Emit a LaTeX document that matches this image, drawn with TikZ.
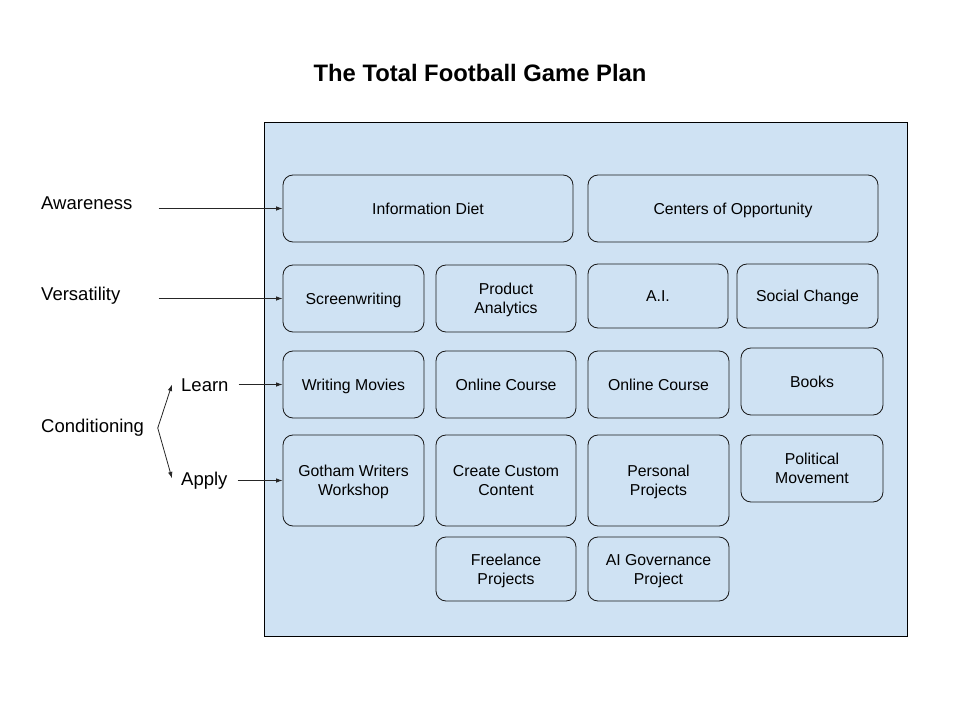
\documentclass[tikz,border=0pt]{standalone}
\usepackage{fontspec}
\setmainfont{Liberation Sans}
\usetikzlibrary{arrows.meta}
\definecolor{panelblue}{HTML}{CFE2F3}
\tikzset{
  panel/.style={draw=black, line width=0.9pt, fill=panelblue},
  box/.style={draw=black!90, line width=0.85pt, fill=panelblue, rounded corners=10pt,
    inner sep=0pt, align=center, font=\fontsize{15.8}{19}\selectfont,
    text height=13.66pt, text depth=2.34pt},
  twoline/.style={text height=32.66pt, text depth=2.34pt},
  lbl/.style={inner sep=0pt, anchor=west, font=\fontsize{18.5}{22}\selectfont,
    text height=14.62pt, text depth=1.38pt},
  ttl/.style={inner sep=0pt, font=\fontsize{23.8}{28}\selectfont\bfseries,
    text height=18.5pt, text depth=1.5pt},
  arr/.style={draw=black!85, line width=0.8pt, -{Latex[length=6.5pt,width=4.5pt]}}
}
\begin{document}
\begin{tikzpicture}[x=1pt,y=-1pt]
\useasboundingbox (0,0) rectangle (960,720);
% title
\node[ttl] (title) at (480,73) {The Total Football Game Plan};
% panel
\draw[panel] (264,122) rectangle (907,636);
% boxes
\node[box, minimum width=290, minimum height=67] (info) at (428,208.5) {Information Diet};
\node[box, minimum width=290, minimum height=67] (centers) at (733,208.5) {Centers of Opportunity};
\node[box, minimum width=141, minimum height=67] (screen) at (353.5,298.5) {Screenwriting};
\node[box, twoline, minimum width=140, minimum height=67] (prod) at (506,298.5) {Product\\Analytics};
\node[box, minimum width=140, minimum height=64] (ai) at (658,296) {A.I.};
\node[box, minimum width=141, minimum height=64] (social) at (807.5,296) {Social Change};
\node[box, minimum width=141, minimum height=67] (writing) at (353.5,384.5) {Writing Movies};
\node[box, minimum width=140, minimum height=67] (online1) at (506,384.5) {Online Course};
\node[box, minimum width=141, minimum height=67] (online2) at (658.5,384.5) {Online Course};
\node[box, minimum width=142, minimum height=67] (books) at (812,381.5) {Books};
\node[box, twoline, minimum width=141, minimum height=91] (gotham) at (353.5,480.5) {Gotham Writers\\Workshop};
\node[box, twoline, minimum width=140, minimum height=91] (create) at (506,480.5) {Create Custom\\Content};
\node[box, twoline, minimum width=141, minimum height=91] (personal) at (658.5,480.5) {Personal\\Projects};
\node[box, twoline, minimum width=142, minimum height=67] (political) at (812,468.5) {Political\\Movement};
\node[box, twoline, minimum width=140, minimum height=64] (freelance) at (506,569) {Freelance\\Projects};
\node[box, twoline, minimum width=141, minimum height=64] (aigov) at (658.5,569) {AI Governance\\Project};
% left labels
\node[lbl] (aware) at (41,203.3) {Awareness};
\node[lbl] (versa) at (41,294) {Versatility};
\node[lbl] (cond) at (41,426) {Conditioning};
\node[lbl] (learn) at (181,384.5) {Learn};
\node[lbl] (apply) at (181,478.4) {Apply};
% arrows
\draw[arr, shorten <=26pt] (aware.east |- info.west) -- (info.west);
\draw[arr, shorten <=38pt] (versa.east |- screen.west) -- (screen.west);
\draw[arr, shorten <=10pt] (learn.east |- writing.west) -- (writing.west);
\draw[arr, shorten <=10pt] (apply.east |- gotham.west) -- (gotham.west);
\draw[arr] ([shift={(13.5,2)}]cond.east) -- ([xshift=-9pt]learn.west);
\draw[arr] ([shift={(13.5,2)}]cond.east) -- ([xshift=-9pt]apply.west);
\end{tikzpicture}
\end{document}
